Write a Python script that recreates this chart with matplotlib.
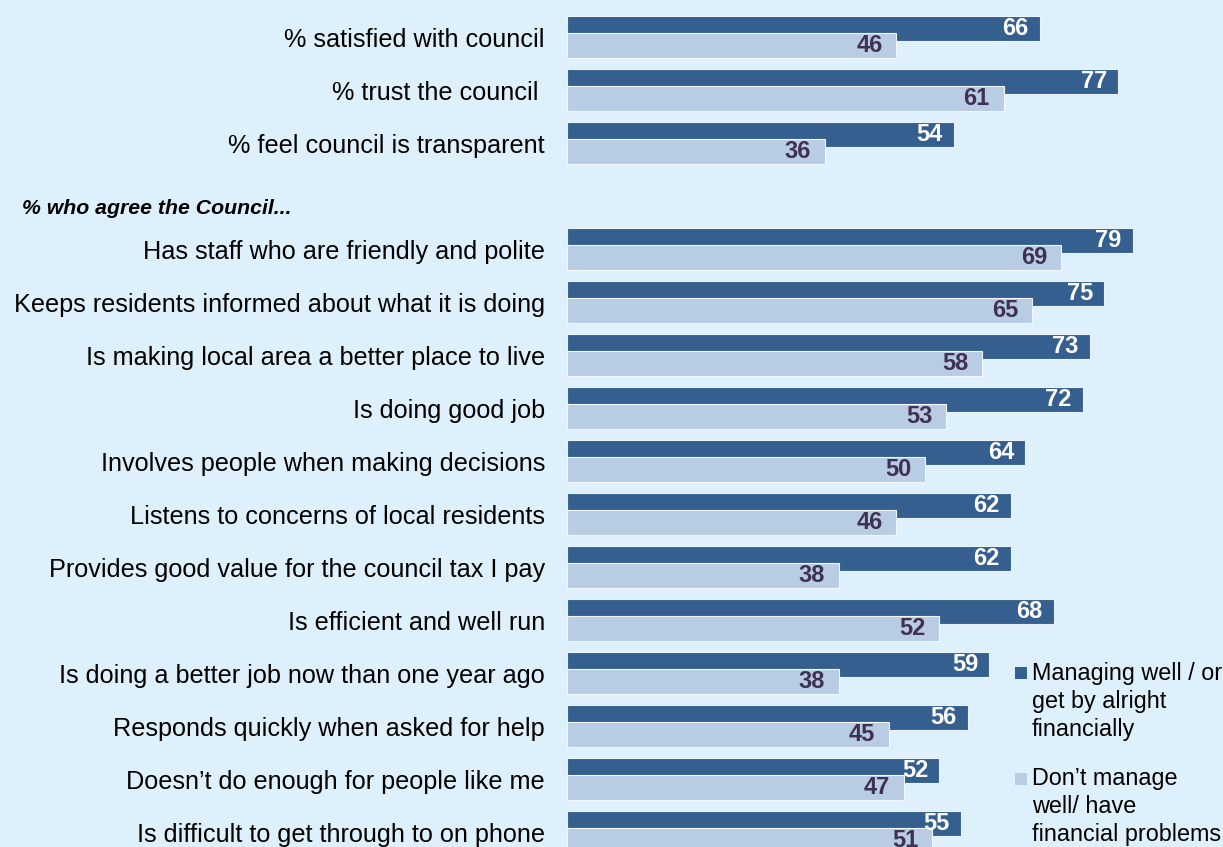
import matplotlib.pyplot as plt
from matplotlib.patches import Rectangle

plt.rcParams['font.family'] = ['Liberation Sans', 'DejaVu Sans']

categories = [
    "% satisfied with council",
    "% trust the council ",
    "% feel council is transparent",
    "Has staff who are friendly and polite",
    "Keeps residents informed about what it is doing",
    "Is making local area a better place to live",
    "Is doing good job",
    "Involves people when making decisions",
    "Listens to concerns of local residents",
    "Provides good value for the council tax I pay",
    "Is efficient and well run",
    "Is doing a better job now than one year ago",
    "Responds quickly when asked for help",
    "Doesn\u2019t do enough for people like me",
    "Is difficult to get through to on phone",
]
managing = [66, 77, 54, 79, 75, 73, 72, 64, 62, 62, 68, 59, 56, 52, 55]
struggling = [46, 61, 36, 69, 65, 58, 53, 50, 46, 38, 52, 38, 45, 47, 51]
header = "% who agree the Council..."
legend_labels = ["Managing well / or\nget by alright\nfinancially",
                 "Don\u2019t manage\nwell/ have\nfinancial problems"]

bg = '#DFF0FD'
dark = '#355F8F'
light = '#B8CCE4'
purple = '#3F3151'

W, H = 1223, 847
fig = plt.figure(figsize=(W / 100, H / 100), dpi=100, facecolor=bg)

# one slot per row, with an empty slot before the "agree" block for the header
slots = [0, 1, 2] + list(range(4, 16))

px_per_unit = 7.16
slot_px = 53
top_px = 16
ax = fig.add_axes([567 / W, 0, (W - 567) / W, 1])
ax.set_facecolor(bg)
ax.set_xlim(0, (W - 567) / px_per_unit)
ax.set_ylim((H - top_px) / slot_px, -top_px / slot_px)
ax.axis('off')

bar_h = 25 / slot_px
shift = 17 / slot_px
ax.barh(slots, managing, height=bar_h, align='edge', color=dark,
        edgecolor='#EAF2FA', linewidth=0.8)
ax.barh([s + shift for s in slots], struggling, height=bar_h, align='edge',
        color=light, edgecolor='#F2F7FC', linewidth=0.8)

for s, cat, m, n in zip(slots, categories, managing, struggling):
    ax.text(m - 1.55, s + bar_h / 2, str(m), ha='right', va='center',
            color='white', fontsize=17, fontweight='bold')
    ax.text(n - 1.95, s + shift + bar_h / 2, str(n), ha='right', va='center',
            color=purple, fontsize=17, fontweight='bold')
    ax.text(-22 / px_per_unit, s + 31 / slot_px, cat, ha='right', va='baseline',
            fontsize=18.2, color='black', clip_on=False)

fig.text(22 / W, 1 - 208 / H, header, ha='left', va='center',
         fontsize=15.3, fontweight='bold', fontstyle='italic')

# legend drawn by hand in figure pixels
for (sq_y, txt_y), col, lab in zip([(667, 662), (773, 767)], [dark, light], legend_labels):
    fig.patches.append(Rectangle((1015 / W, 1 - (sq_y + 12) / H), 12 / W, 12 / H,
                                 transform=fig.transFigure, facecolor=col,
                                 edgecolor='none'))
    fig.text(1032 / W, 1 - txt_y / H, lab, ha='left', va='top',
             fontsize=16.8, linespacing=1.28)

fig.savefig('out.png', dpi=100, facecolor=bg)
